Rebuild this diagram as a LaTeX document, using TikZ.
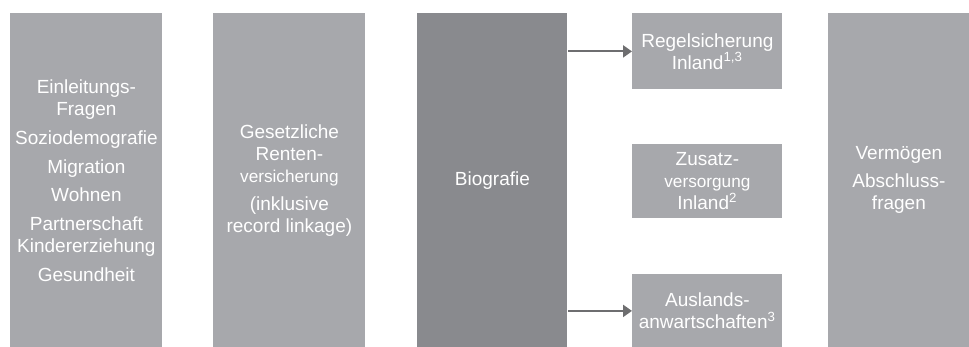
\documentclass[tikz,border=0pt]{standalone}
\usepackage{fontspec}
\setmainfont{Liberation Sans}
\usetikzlibrary{arrows.meta}
\definecolor{blockgray}{RGB}{167,168,172}
\definecolor{biogray}{RGB}{137,138,142}
\definecolor{arrowgray}{RGB}{110,110,112}

\tikzset{
  block/.style={fill=blockgray, text=white, align=center, anchor=north west,
    inner sep=0pt, font=\fontsize{9.5}{11}\selectfont},
  tall/.style={minimum height=167pt},
  link/.style={draw=arrowgray, line width=1.1pt, -{Triangle[length=4.5pt,width=6pt]}}
}

\begin{document}
\begin{tikzpicture}[x=0.5pt, y=-0.5pt]
  \useasboundingbox (0,0) rectangle (969,347);

  % columns
  \node[block, tall, minimum width=76pt] (intro) at (10,13)
    {Einleitungs-\\Fragen\\[3.5pt]Soziodemografie\\[3.5pt]Migration\\[3pt]Wohnen\\[3.5pt]Partnerschaft\\Kindererziehung\\[3.5pt]Gesundheit};
  \node[block, tall, minimum width=76pt] (grv) at (213,13)
    {Gesetzliche\\Renten-\\{\fontsize{8.6}{11}\selectfont versicherung}\\[3pt](inklusive\\record linkage)};
  \node[block, tall, minimum width=75pt, fill=biogray] (bio) at (417,13) {Biografie};
  \node[block, tall, minimum width=70.5pt] (asset) at (828,13)
    {Vermögen\\[3pt]Abschluss-\\fragen};

  % pension boxes
  \node[block, minimum width=75pt, minimum height=38pt] (regel) at (632,13)
    {Regelsicherung\\Inland\textsuperscript{1,3}};
  \node[block, minimum width=75pt, minimum height=37pt] (zusatz) at (632,144)
    {Zusatz-\\{\fontsize{8.6}{11}\selectfont versorgung}\\Inland\textsuperscript{2}};
  \node[block, minimum width=75pt, minimum height=36.5pt] (ausland) at (632,274)
    {Auslands-\\anwartschaften\textsuperscript{3}};

  \draw[link] (bio.east |- regel.west) -- (regel.west);
  \draw[link] (bio.east |- ausland.west) -- (ausland.west);
\end{tikzpicture}
\end{document}
